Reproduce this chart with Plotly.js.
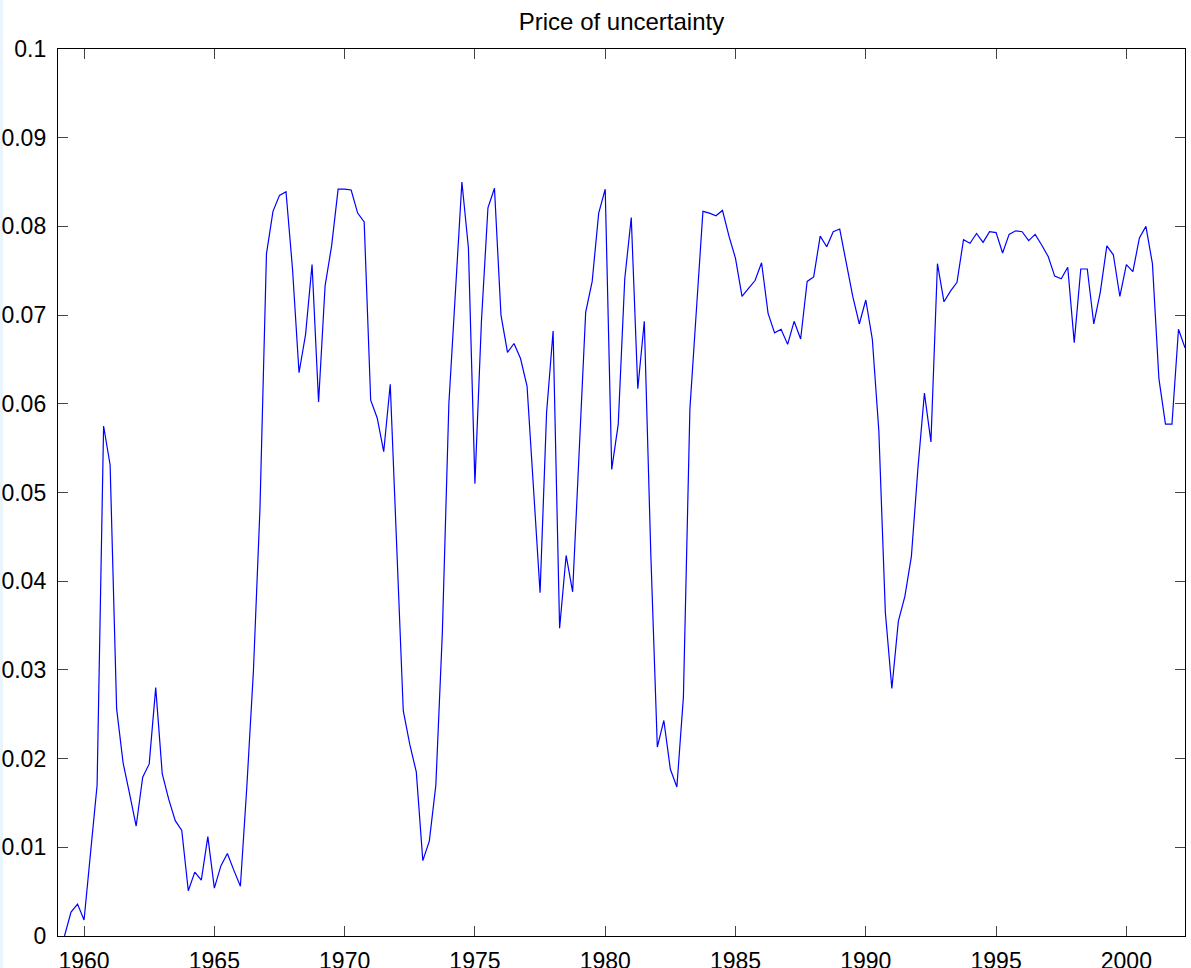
<!DOCTYPE html>
<html>
<head>
<meta charset="utf-8">
<script src="https://cdn.plot.ly/plotly-3.0.1.min.js"></script>
<style>
  html, body { margin: 0; padding: 0; background: #ffffff; }
  #chart { width: 1191px; height: 968px; }
</style>
</head>
<body>
<div id="chart"></div>
<script>
// Quarterly series, first observation 1959 Q2 (1959.25), step one quarter
const startYear = 1959.25;
const stepYears = 0.25;

const priceOfUncertainty = [
  0.0000, 0.0027, 0.0036,
  0.0018, 0.0094, 0.0170, 0.0575,
  0.0531, 0.0256, 0.0195, 0.0160,
  0.0124, 0.0179, 0.0194, 0.0280,
  0.0183, 0.0154, 0.0130, 0.0119,
  0.0051, 0.0072, 0.0063, 0.0112,
  0.0054, 0.0079, 0.0093, 0.0074,
  0.0056, 0.0170, 0.0299, 0.0481,
  0.0769, 0.0817, 0.0835, 0.0839,
  0.0752, 0.0635, 0.0678, 0.0757,
  0.0602, 0.0733, 0.0778, 0.0842,
  0.0842, 0.0841, 0.0815, 0.0805,
  0.0604, 0.0584, 0.0546, 0.0622,
  0.0435, 0.0254, 0.0216, 0.0185,
  0.0085, 0.0107, 0.0170, 0.0342,
  0.0600, 0.0719, 0.0850, 0.0776,
  0.0510, 0.0693, 0.0821, 0.0843,
  0.0700, 0.0658, 0.0668, 0.0651,
  0.0620, 0.0504, 0.0387, 0.0590,
  0.0682, 0.0347, 0.0429, 0.0388,
  0.0547, 0.0703, 0.0738, 0.0815,
  0.0842, 0.0526, 0.0577, 0.0741,
  0.0810, 0.0617, 0.0693, 0.0430,
  0.0213, 0.0243, 0.0188, 0.0168,
  0.0269, 0.0594, 0.0706, 0.0817,
  0.0815, 0.0812, 0.0818, 0.0789,
  0.0764, 0.0721, 0.0730, 0.0739,
  0.0759, 0.0702, 0.0680, 0.0684,
  0.0667, 0.0693, 0.0673, 0.0738,
  0.0743, 0.0789, 0.0777, 0.0794,
  0.0797, 0.0760, 0.0721, 0.0690,
  0.0717, 0.0673, 0.0570, 0.0365,
  0.0279, 0.0355, 0.0383, 0.0428,
  0.0527, 0.0612, 0.0557, 0.0758,
  0.0715, 0.0727, 0.0737, 0.0785,
  0.0781, 0.0792, 0.0782, 0.0794,
  0.0793, 0.0770, 0.0791, 0.0795,
  0.0794, 0.0784, 0.0791, 0.0779,
  0.0766, 0.0744, 0.0741, 0.0754,
  0.0669, 0.0752, 0.0752, 0.0690,
  0.0726, 0.0778, 0.0768, 0.0721,
  0.0757, 0.0749, 0.0787, 0.0800,
  0.0758, 0.0628, 0.0577, 0.0577,
  0.0684, 0.0663
];

const xTickVals = [1960, 1965, 1970, 1975, 1980, 1985, 1990, 1995, 2000];
const xTickText = ['1960', '1965', '1970', '1975', '1980', '1985', '1990', '1995', '2000'];
const yTickVals = [0, 0.01, 0.02, 0.03, 0.04, 0.05, 0.06, 0.07, 0.08, 0.09, 0.1];
const yTickText = ['0', '0.01', '0.02', '0.03', '0.04', '0.05', '0.06', '0.07', '0.08', '0.09', '0.1'];
const chartTitle = 'Price of uncertainty';

const quarters = priceOfUncertainty.map((_, i) => startYear + i * stepYears);

const FONT = '"Liberation Sans", Arial, Helvetica, sans-serif';

const trace = {
  type: 'scatter',
  mode: 'lines',
  x: quarters,
  y: priceOfUncertainty,
  line: { color: '#0000ff', width: 1.2 },
  hoverinfo: 'x+y'
};

const axisCommon = {
  showgrid: false,
  zeroline: false,
  showline: true,
  linecolor: '#000000',
  linewidth: 1.2,
  mirror: 'ticks',
  ticks: 'inside',
  ticklen: 10,
  tickwidth: 1,
  tickcolor: '#444444',
  tickfont: { family: FONT, size: 23, color: '#000000' }
};

const layout = {
  width: 1191,
  height: 968,
  paper_bgcolor: '#ffffff',
  plot_bgcolor: '#ffffff',
  margin: { l: 58, r: 6, t: 49, b: 32, pad: 0 },
  showlegend: false,
  title: {
    text: chartTitle,
    font: { family: FONT, size: 24, color: '#000000' },
    x: 0.5,
    xref: 'paper',
    xanchor: 'center',
    y: 1 - 22 / 968,
    yref: 'container',
    yanchor: 'middle'
  },
  xaxis: Object.assign({}, axisCommon, {
    range: [1959, 2002.25],
    tickmode: 'array',
    tickvals: xTickVals,
    ticktext: xTickText,
    ticklabelstandoff: 4
  }),
  yaxis: Object.assign({}, axisCommon, {
    range: [0, 0.1],
    tickmode: 'array',
    tickvals: yTickVals,
    ticktext: yTickText,
    ticklabelstandoff: 6
  }),
  shapes: [{
    type: 'rect',
    xref: 'paper', yref: 'paper',
    x0: -58 / 1127, x1: -55 / 1127,
    y0: -32 / 887, y1: 1 + 49 / 887,
    fillcolor: '#eaf4fb',
    line: { width: 0 },
    layer: 'below'
  }]
};

Plotly.newPlot('chart', [trace], layout, { displayModeBar: false, staticPlot: true });
</script>
</body>
</html>
